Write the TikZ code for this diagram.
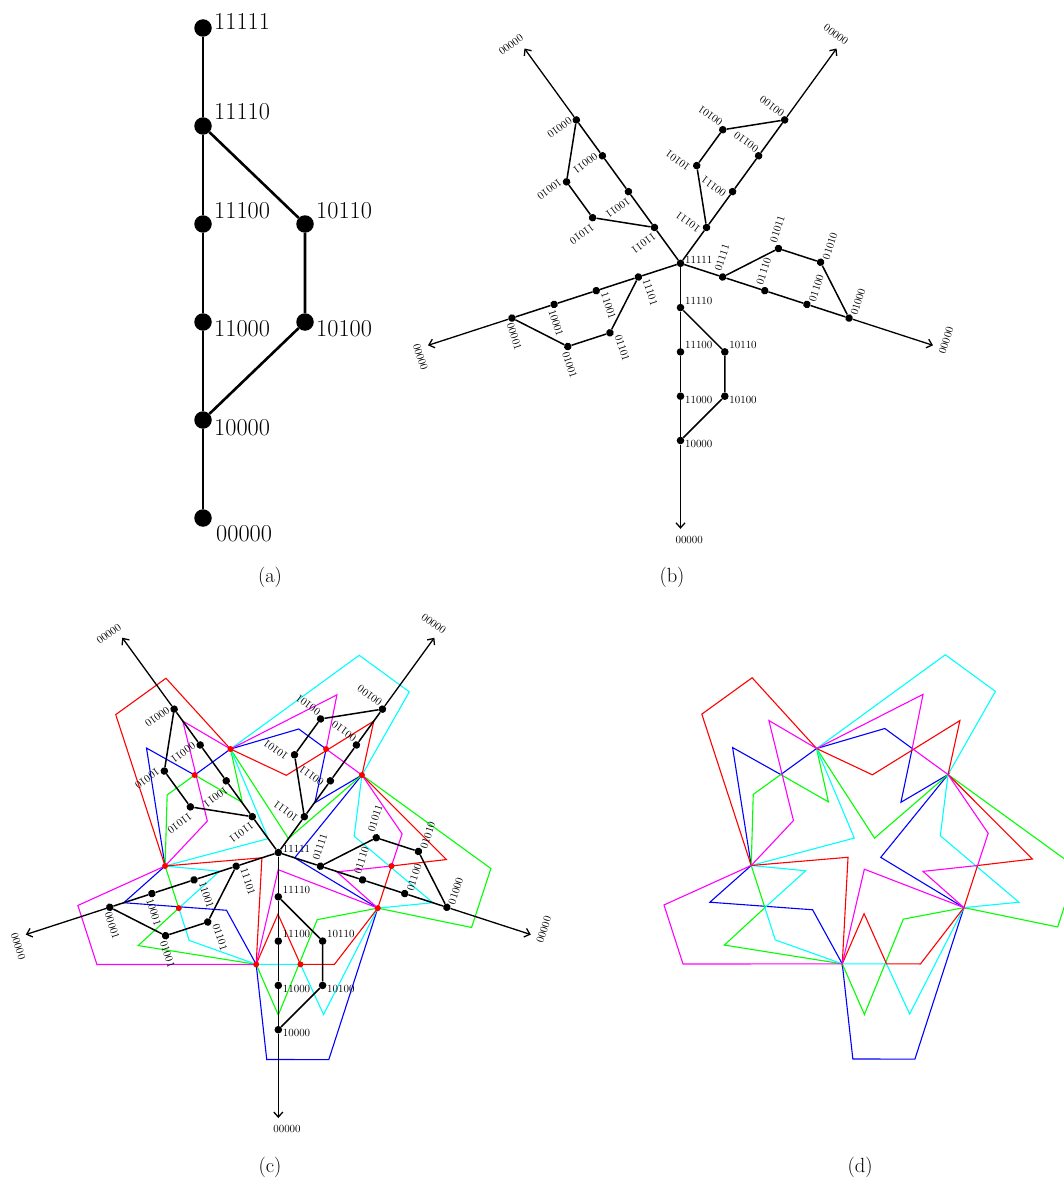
\documentclass[tikz,border=0pt]{standalone}
\usepackage{xcolor}
\usepackage{tikz}
\usetikzlibrary{arrows.meta, positioning}

\definecolor{cyanline}{RGB}{0,255,255}
\definecolor{magline}{RGB}{255,0,255}
\definecolor{greenline}{RGB}{0,255,0}
\definecolor{blueline}{RGB}{0,0,255}
\definecolor{redline}{RGB}{255,0,0}

% one arm of the star, drawn pointing down and turned by #3
% #1 hub node, #2 name prefix, #3 angle, #4-#7 chain, #8-#9 side path
\newcommand{\bitarm}[9]{%
  \begin{scope}[shift={(#1)}, rotate=#3, transform shape]
    \node[dot] (#2a) at (0,44.3) {};
    \node[dot] (#2b) at (0,88.6) {};
    \node[dot] (#2c) at (0,132.9) {};
    \node[dot] (#2d) at (0,177.2) {};
    \node[dot] (#2e) at (44.3,88.6) {};
    \node[dot] (#2f) at (44.3,132.9) {};
    \coordinate (#2z) at (0,265.5);
    \path[edge] (#1) -- (#2a) -- (#2b) -- (#2c) -- (#2d);
    \path[edge] (#2a) -- (#2e) -- (#2f) -- (#2d);
    \path[tail] (#2d) -- (#2z);
    \node[lblb] (#2ta) at (4.4,37.8) {#4};
    \node[lblb] (#2tb) at (4.4,81.6) {#5};
    \node[lblb] (#2tc) at (4.4,136.9) {#6};
    \node[lblb] (#2td) at (4.4,180.7) {#7};
    \node[lblb] (#2te) at (48.7,81.6) {#8};
    \node[lblb] (#2tf) at (48.7,136.9) {#9};
    \node[lblb, anchor=center] (#2tz) at (8.7,276.4) {00000};
  \end{scope}}

% the whole star round hub #1
\newcommand{\bitstar}[2]{%
  \node[lblb, xshift=4.4pt, yshift=3.5pt] (#2top) at (#1) {11111};
  \bitarm{#1}{#2r0}{0}{11110}{11100}{11000}{10000}{10110}{10100}
  \bitarm{#1}{#2r1}{72}{01111}{01110}{01100}{01000}{01011}{01010}
  \bitarm{#1}{#2r2}{144}{10111}{00111}{00110}{00100}{10101}{00101}
  \bitarm{#1}{#2r3}{216}{11011}{10011}{00011}{00010}{11010}{10010}
  \bitarm{#1}{#2r4}{288}{11101}{11001}{10001}{00001}{01101}{01001}}

% five curves, each the last one turned by 72 degrees
\newcommand{\venncurves}{%
  \foreach \turn/\col in {0/blueline,72/greenline,144/cyanline,216/redline,288/magline}
    \draw[curve, draw=\col, rotate=\turn] (266.8:207.3) -- (283.7:213.2)
      -- (330.8:114) -- (341.8:17.2) -- (42.8:114) -- (53.7:61.7)
      -- (65.2:114) -- (80.6:125.2) -- (114.8:114) -- (137.2:114)
      -- (141.6:168.2) -- (186.8:114) -- (198:162.5) -- (228.1:77.6)
      -- (258.8:114) -- cycle;}

\begin{document}
\begin{tikzpicture}[x=1pt, y=-1pt, on grid, node distance=98pt]
    % Styles
    \tikzstyle{bigdot} = [circle, fill=black, inner sep=0pt, minimum size=17.5pt]
    \tikzstyle{dot} = [circle, fill=black, inner sep=0pt, minimum size=7.6pt]
    \tikzstyle{lbla} = [anchor=west, inner sep=0pt, font=\fontsize{24.3}{28}\selectfont]
    \tikzstyle{lblb} = [anchor=west, inner sep=0pt, font=\fontsize{10.9}{12}\selectfont]
    \tikzstyle{bigedge} = [draw, line width=2.6pt]
    \tikzstyle{edge} = [draw, line width=1.5pt]
    \tikzstyle{tail} = [draw, line width=1.3pt, -{Straight Barb[length=5pt,width=9pt]}]
    \tikzstyle{curve} = [line width=1.1pt]
    \tikzstyle{caption} = [font=\fontsize{20.5}{24}\selectfont]

    \useasboundingbox (0,0) rectangle (1064,1185);

    % (a) the chain
    \node [bigdot] (a11111) at (203,28) {};
    \node [bigdot, below=of a11111] (a11110) {};
    \node [bigdot, below=of a11110] (a11100) {};
    \node [bigdot, below=of a11100] (a11000) {};
    \node [bigdot, below=of a11000] (a10000) {};
    \node [bigdot, below=of a10000] (a00000) {};
    \node [bigdot, right=102pt of a11100] (a10110) {};
    \node [bigdot, right=102pt of a11000] (a10100) {};
    \path [bigedge] (a11111) -- (a11110) -- (a11100) -- (a11000) -- (a10000) -- (a00000);
    \path [bigedge] (a11110) -- (a10110) -- (a10100) -- (a10000);
    \node [lbla, xshift=11pt, yshift=6.5pt] (t11111) at (a11111) {11111};
    \node [lbla, xshift=11pt, yshift=14pt] (t11110) at (a11110) {11110};
    \node [lbla, xshift=11pt, yshift=13pt] (t11100) at (a11100) {11100};
    \node [lbla, xshift=11pt, yshift=13pt] (t10110) at (a10110) {10110};
    \node [lbla, xshift=11pt, yshift=-7pt] (t11000) at (a11000) {11000};
    \node [lbla, xshift=11pt, yshift=-7pt] (t10100) at (a10100) {10100};
    \node [lbla, xshift=11pt, yshift=-8pt] (t10000) at (a10000) {10000};
    \node [lbla, xshift=13pt, yshift=-16pt] (t00000) at (a00000) {00000};

    % (b) the star
    \node [dot] (bhub) at (680.5,263.3) {};
    \bitstar{bhub}{b}

    % (c) curves under the star
    \begin{scope}[shift={(278.3,852.5)}, y=1pt]
        \venncurves
    \end{scope}
    \node [dot] (chub) at (278.3,852.5) {};
    \bitstar{chub}{c}
    \begin{scope}[shift={(278.3,852.5)}, y=1pt]
        \foreach \k in {0,...,4} {
            \fill [redline] (42.8+72*\k:114) circle (3);
            \fill [redline] (65.2+72*\k:114) circle (3);
        }
    \end{scope}

    % (d) curves alone
    \begin{scope}[shift={(864.4,852)}, y=1pt]
        \venncurves
    \end{scope}

    % Captions
    \node [caption] (capa) at (270,577) {(a)};
    \node [caption] (capb) at (672,577) {(b)};
    \node [caption] (capc) at (270,1167) {(c)};
    \node [caption] (capd) at (860,1167) {(d)};
\end{tikzpicture}
\end{document}
